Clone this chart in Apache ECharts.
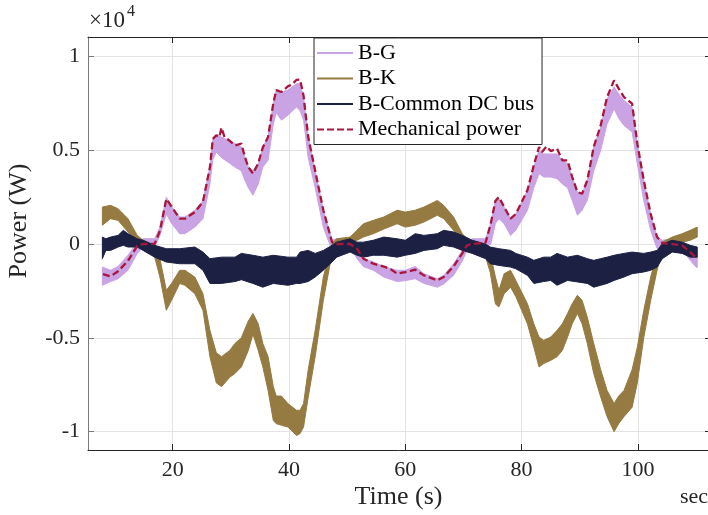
<!DOCTYPE html>
<html><head><meta charset="utf-8">
<script src="https://cdn.jsdelivr.net/npm/echarts@6/dist/echarts.min.js"></script>
<style>html,body{margin:0;padding:0;background:#fff}#c{width:708px;height:515px}</style>
</head><body><div id="c"></div>
<script>
// ---------- data (W) ----------
const xTickValues = [20, 40, 60, 80, 100];
const yTickValues = [-10000, -5000, 0, 5000, 10000];
const seriesNames = ['B-G', 'B-K', 'B-Common DC bus', 'Mechanical power'];

const tMech = [8.0,9.3,10.6,12.3,13.9,14.9,16.9,17.8,18.9,19.8,21.2,22.1,23.8,25.2,26.4,26.9,27.5,28.0,28.4,28.9,29.8,30.7,31.8,32.4,33.0,33.8,34.7,35.5,36.4,37.3,37.8,38.7,39.8,40.5,41.3,41.9,42.5,43.3,44.5,45.9,47.4,48.2,50.5,51.7,52.8,54.5,56.3,57.5,58.6,60.0,61.7,63.2,65.5,66.6,68.3,69.8,70.6,71.5,73.8,74.7,75.5,76.1,77.0,78.1,79.0,81.0,82.1,83.0,83.5,84.3,85.0,86.1,87.0,87.9,88.7,89.6,90.4,91.3,92.4,93.6,94.7,95.9,96.7,97.6,99.0,99.9,101.0,102.2,103.3,104.2,105.9,107.6,109.0,109.9,110.2];
const mechPower = [-1600,-1720,-1450,-900,-100,0,10,700,2400,2000,1350,1350,1700,2250,4100,5600,5800,5700,6200,5700,5500,5250,5350,4650,4100,3750,4300,5150,5700,7500,8200,8100,8400,8500,8750,8760,7900,5700,3900,1800,100,0,0,-250,-780,-1050,-1200,-1350,-1580,-1500,-1370,-1670,-1940,-1760,-1200,-500,-70,0,70,1100,2300,2500,1970,1350,1600,2860,4200,5170,4900,5200,4950,5080,4460,4460,3570,2770,2680,3400,5170,6320,7830,8720,8280,7830,7480,5350,3400,1600,370,50,0,-70,-430,-700,-760];

const tBG = [7.9,9.3,10.6,12.3,13.9,14.9,16.9,17.8,18.9,19.8,21.2,22.1,23.8,25.2,26.4,26.9,27.5,28.4,29.8,30.7,31.8,32.4,33.0,33.8,34.7,35.5,36.4,37.3,37.8,38.7,39.8,41.3,41.9,42.5,43.3,44.5,45.9,47.4,48.2,50.5,51.7,52.8,54.5,56.3,58.6,60.0,61.7,63.2,65.5,66.6,68.3,69.8,70.6,71.5,73.8,74.7,75.5,76.1,77.0,78.1,79.0,81.0,82.1,83.0,83.8,85.0,86.1,87.0,87.9,88.7,89.6,90.4,91.3,92.4,93.6,94.7,95.9,96.7,97.6,99.0,99.9,101.0,102.2,103.3,104.2,105.9,107.6,109.0,109.9,110.2];
const bgLow  = [-2200,-2000,-1850,-1400,-500,-160,-160,450,1600,1100,550,550,900,1350,3200,4500,4900,4600,4300,4100,3900,3400,3000,2600,3200,4100,4470,6400,7000,6600,6860,7300,7100,6600,4600,3000,900,-340,-160,-160,-780,-1200,-1400,-1760,-2000,-1950,-1850,-2100,-2300,-2130,-1670,-900,-340,-160,-160,0,1100,1350,1080,460,730,1800,3000,3750,3570,3570,3480,3200,3000,2330,1530,1800,2330,3900,5000,6400,7200,6700,6320,5970,4280,2330,730,-250,-160,-160,-340,-870,-1200,-1250];
const bgHigh = [-1230,-1400,-1200,-600,100,280,280,900,2500,2000,1440,1440,1800,2300,4100,5600,5800,5700,5500,5350,5170,4640,4100,3900,4280,5170,5700,7480,8200,8100,8200,8540,8540,7800,5700,3900,1800,200,280,280,-340,-780,-960,-1200,-1400,-1400,-1200,-1580,-1850,-1670,-1050,-340,100,280,280,1100,2300,2400,1970,1350,1600,2860,4100,5000,4800,4800,4800,4460,4280,3570,2770,2680,3400,5170,6230,7740,8370,8000,7650,7300,5350,3400,1600,370,200,280,200,-250,-500,-600];

const tBK = [7.9,9.3,10.6,12.3,13.9,14.9,16.9,17.8,18.9,19.8,21.2,22.1,23.8,25.2,26.4,27.5,28.4,29.8,30.7,31.8,33.0,33.8,34.7,35.5,36.4,37.3,37.8,38.7,39.8,41.3,41.9,42.5,43.3,44.5,45.9,47.4,48.2,50.5,51.7,52.8,54.5,56.3,58.6,60.0,61.7,63.2,65.5,66.6,68.3,69.8,70.6,71.5,73.8,74.6,75.5,76.1,77.0,78.1,79.0,81.0,82.1,83.0,83.8,85.0,86.1,87.0,87.9,88.7,89.6,90.4,91.3,92.4,93.6,94.7,95.9,96.7,97.6,99.0,99.9,101.0,102.2,103.3,104.2,105.9,107.6,109.0,110.2];
const bkLow  = [1000,1350,1260,640,100,0,-700,-1760,-3530,-3000,-2100,-2200,-2650,-3530,-6000,-7400,-7600,-7100,-6900,-6550,-5670,-4800,-5670,-6550,-7800,-9400,-9570,-9660,-9750,-10200,-10100,-9750,-8150,-6000,-3000,-500,-70,100,200,370,550,800,1080,900,1000,1170,1530,1350,730,200,0,-160,-700,-1500,-3200,-3350,-2650,-2300,-2800,-4250,-5500,-6550,-6370,-6200,-6000,-5670,-4960,-4250,-3700,-4250,-5300,-6900,-8150,-9200,-10000,-9570,-9200,-8700,-7400,-5000,-3000,-1400,-340,0,100,200,370];
const bkHigh = [1970,2060,1880,1350,460,200,-70,-780,-2470,-2100,-1400,-1400,-1760,-2650,-4600,-5800,-6000,-5670,-5300,-5000,-4100,-3700,-4250,-5300,-6000,-7600,-8100,-8100,-8500,-8860,-8860,-8500,-6700,-4600,-1760,0,280,370,730,1080,1260,1440,1800,1700,1800,1970,2320,2060,1440,550,280,100,-160,-500,-1760,-2470,-1580,-1400,-1940,-3180,-4250,-4960,-5130,-4960,-4600,-4250,-3700,-3180,-2730,-3000,-3900,-5300,-6700,-7800,-8500,-8100,-7800,-6700,-5500,-3550,-1760,-500,100,370,550,730,900];

const tDC = [7.9,8.5,9.3,10.6,11.5,12.3,13.9,14.9,16.9,18.9,21.2,23.8,25.2,26.4,28.4,30.7,31.8,33.8,35.5,37.3,39.8,41.3,41.9,43.3,44.5,45.9,47.4,48.2,50.5,51.7,52.8,54.5,56.3,58.6,60.0,61.7,63.2,65.5,66.6,68.3,69.8,71.5,73.8,74.6,76.1,78.1,79.0,81.0,82.1,83.8,85.0,86.1,87.9,89.6,91.3,92.4,93.6,94.7,95.9,97.6,99.0,101.0,102.2,103.3,104.2,105.9,107.6,109.0,110.2];
const dcLow  = [-780,-340,-340,-160,-70,-160,-160,-340,-700,-960,-1050,-1050,-1400,-2100,-2100,-2000,-1900,-2100,-2300,-2100,-2200,-2100,-2100,-2000,-1760,-1400,-960,-700,-430,-600,-700,-600,-600,-700,-600,-500,-340,-250,-70,-160,-340,-500,-780,-1050,-1140,-1230,-1320,-1670,-2100,-2000,-1940,-2200,-1940,-2020,-2100,-2300,-2200,-2100,-1940,-1760,-1580,-1490,-1400,-1230,-780,-430,-500,-700,-700];
const dcHigh = [370,280,370,460,730,550,280,200,-70,-250,-250,-160,-430,-780,-700,-700,-500,-600,-700,-600,-700,-700,-430,-340,-500,-340,-70,100,280,100,100,200,370,280,200,550,460,550,730,640,460,200,0,-160,-250,-340,-500,-700,-870,-700,-700,-500,-700,-600,-780,-870,-780,-700,-600,-500,-430,-500,-430,-340,0,200,100,-70,-160];

// ---------- chart ----------
const FONT = '"Liberation Serif", "DejaVu Serif", serif';
const AX = '#262626';
const X0 = 5.43, X1 = 112.57;
const Y0 = -10975, Y1 = 11030;
const colors = ['#C9A3E3', '#957B41', '#1C2143', '#A8173B'];

function band(name, t, lo, hi, color, z) {
  return {
    name: name, type: 'custom', z: z, silent: true, clip: true,
    itemStyle: { color: color },
    data: [[t[0], lo[0]]],
    encode: { x: 0, y: 1 },
    renderItem: function (params, api) {
      const pts = [];
      for (let i = 0; i < t.length; i++) pts.push(api.coord([t[i], hi[i]]));
      for (let i = t.length - 1; i >= 0; i--) pts.push(api.coord([t[i], lo[i]]));
      return { type: 'polygon', shape: { points: pts },
               style: { fill: color, stroke: color, lineWidth: 1, lineJoin: 'round' } };
    }
  };
}

const chart = echarts.init(document.getElementById('c'), null, { renderer: 'canvas' });
const dashIcon = 'path://M0,0h7v2h-7z M10,0h7v2h-7z M20,0h7v2h-7z M30,0h6v2h-6z';
const lineIcon = 'path://M0,0h36v2h-36z';

const option = {
  animation: false,
  backgroundColor: '#fff',
  grid: { left: 88, right: -3, top: 37, bottom: 65, outerBoundsMode: 'none', containLabel: false },
  xAxis: [
    { type: 'value', min: X0, max: X1, position: 'bottom',
      axisLine: { show: true, onZero: false, lineStyle: { color: AX, width: 1 } },
      axisTick: { show: true, inside: true, length: 6, customValues: xTickValues, lineStyle: { color: AX } },
      axisLabel: { show: true, customValues: xTickValues, margin: 9, color: AX, fontFamily: FONT, fontSize: 22 },
      splitLine: { show: true, lineStyle: { color: '#E3E3E3', width: 1 } } },
    { type: 'value', min: X0, max: X1, position: 'top',
      axisLine: { show: true, onZero: false, lineStyle: { color: AX, width: 1 } },
      axisTick: { show: true, inside: true, length: 6, customValues: xTickValues, lineStyle: { color: AX } },
      axisLabel: { show: false }, splitLine: { show: false } }
  ],
  yAxis: [
    { type: 'value', min: Y0, max: Y1, position: 'left',
      axisLine: { show: true, onZero: false, lineStyle: { color: '#7A7A7A', width: 1 } },
      axisTick: { show: true, inside: true, length: 6, customValues: yTickValues, lineStyle: { color: '#7A7A7A' } },
      axisLabel: { show: true, customValues: yTickValues, margin: 8, color: AX, fontFamily: FONT, fontSize: 22,
                   formatter: function (v) { return String(Math.round(v / 1000) / 10); } },
      splitLine: { show: true, lineStyle: { color: '#E3E3E3', width: 1 } } },
    { type: 'value', min: Y0, max: Y1, position: 'right',
      axisLine: { show: true, onZero: false, lineStyle: { color: AX, width: 1 } },
      axisTick: { show: true, inside: true, length: 6, customValues: yTickValues, lineStyle: { color: AX } },
      axisLabel: { show: false }, splitLine: { show: false } }
  ],
  legend: {
    orient: 'vertical', left: 314, top: 38, z: 10,
    padding: [4, 8, 4, 3], itemWidth: 36, itemHeight: 2.5, itemGap: 3.5,
    backgroundColor: '#fff', borderColor: AX, borderWidth: 1, borderRadius: 0,
    selectedMode: false,
    textStyle: { fontFamily: FONT, fontSize: 22, color: '#000' },
    data: [
      { name: seriesNames[0], icon: lineIcon, itemStyle: { color: colors[0] } },
      { name: seriesNames[1], icon: lineIcon, itemStyle: { color: colors[1] } },
      { name: seriesNames[2], icon: lineIcon, itemStyle: { color: colors[2] } },
      { name: seriesNames[3], icon: dashIcon, itemStyle: { color: colors[3] } }
    ]
  },
  graphic: [
    { type: 'text', left: 89, top: 9, style: { text: '×10', font: '23px ' + FONT, fill: AX } },
    { type: 'text', left: 127, top: 4, style: { text: '4', font: '16px ' + FONT, fill: AX } },
    { type: 'text', x: 19, y: 221, rotation: Math.PI / 2,
      style: { text: 'Power (W)', font: '26px ' + FONT, fill: AX, align: 'center', verticalAlign: 'middle' } },
    { type: 'text', x: 398.5, y: 497,
      style: { text: 'Time (s)', font: '26px ' + FONT, fill: AX, align: 'center', verticalAlign: 'middle' } },
    { type: 'text', x: 680, y: 497,
      style: { text: 'sec', font: '22px ' + FONT, fill: AX, align: 'left', verticalAlign: 'middle' } }
  ],
  series: [
    band(seriesNames[0], tBG, bgLow, bgHigh, colors[0], 2),
    band(seriesNames[1], tBK, bkLow, bkHigh, colors[1], 3),
    band(seriesNames[2], tDC, dcLow, dcHigh, colors[2], 4),
    { name: seriesNames[3], type: 'line', z: 5, showSymbol: false, symbol: 'none', silent: true,
      data: tMech.map(function (t, i) { return [t, mechPower[i]]; }),
      lineStyle: { color: colors[3], width: 2.3, type: [7, 3.5] },
      itemStyle: { color: colors[3] } }
  ]
};
chart.setOption(option);
</script>
</body></html>
